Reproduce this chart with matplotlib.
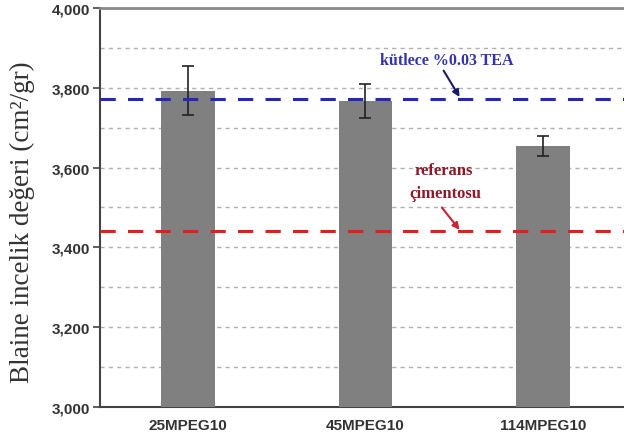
import numpy as np
import matplotlib.pyplot as plt

# veriler
kategoriler = ['25MPEG10', '45MPEG10', '114MPEG10']
blaine = [3793, 3767, 3655]
hata = [61, 43, 25]
tea_seviye = 3772
referans_seviye = 3441

fig = plt.figure(figsize=(6.24, 4.39), dpi=100)
ax = fig.add_axes([0.160, 0.0706, 0.840, 0.909])

x = np.arange(len(kategoriler))
ax.bar(x, blaine, width=0.30, color='#808080', zorder=3)
ax.errorbar(x, blaine, yerr=hata, fmt='none', ecolor='#222222', elinewidth=1.2,
            capsize=4, capthick=1.2, zorder=4)

# grid
for yy in range(3100, 4000, 100):
    ax.axhline(yy, color='#b0b0b0', linestyle=(0, (3, 3)), linewidth=1.0, zorder=1)

ax.axhline(tea_seviye, color='#2626b8', linestyle=(0, (5, 4)), linewidth=2.2, zorder=5)
ax.axhline(referans_seviye, color='#e02020', linestyle=(0, (5, 4)), linewidth=2.2, zorder=5)

ax.set_ylim(3000, 4000)
ax.set_xlim(-0.496, 2.456)
ax.set_xticks(x)
ax.set_xticklabels(kategoriler, fontsize=11, fontweight='bold', color='#333333',
                   family='Liberation Sans')
ax.set_yticks(np.arange(3000, 4001, 200))
ax.set_yticklabels(['{:,}'.format(v) for v in range(3000, 4001, 200)], fontsize=11,
                   fontweight='bold', color='#333333', family='Liberation Sans')
ax.tick_params(axis='x', length=0, pad=8)
ax.tick_params(axis='y', length=5, width=1.2, color='#444444', pad=2)

ax.set_ylabel('Blaine incelik değeri (cm²/gr)', family='Liberation Serif',
              fontsize=19.5, color='#333333')
ax.yaxis.set_label_coords(-0.124, 0.466)

for s in ['left', 'bottom']:
    ax.spines[s].set_color('#444444')
    ax.spines[s].set_linewidth(1.5)
ax.spines['top'].set_color('#888888')
ax.spines['top'].set_linewidth(2)
ax.spines['right'].set_visible(False)

# notlar
ax.text(1.46, 3870, 'kütlece %0.03 TEA', ha='center', va='center', color='#3333aa',
        fontweight='bold', family='Liberation Serif', fontsize=11.5)
ax.annotate('', xy=(1.53, tea_seviye + 5), xytext=(1.44, 3843),
            arrowprops=dict(arrowstyle='-|>', color='#1a1a66', lw=1.5,
                            mutation_scale=10, shrinkA=0, shrinkB=0))
ax.text(1.44, 3595, 'referans', ha='center', va='center', color='#8b1a2a',
        fontweight='bold', family='Liberation Serif', fontsize=12)
ax.text(1.45, 3537, 'çimentosu', ha='center', va='center', color='#8b1a2a',
        fontweight='bold', family='Liberation Serif', fontsize=12)
ax.annotate('', xy=(1.53, referans_seviye + 3), xytext=(1.43, 3500),
            arrowprops=dict(arrowstyle='-|>', color='#cc2233', lw=1.5,
                            mutation_scale=10, shrinkA=0, shrinkB=0))

fig.savefig('out.png', dpi=100)
